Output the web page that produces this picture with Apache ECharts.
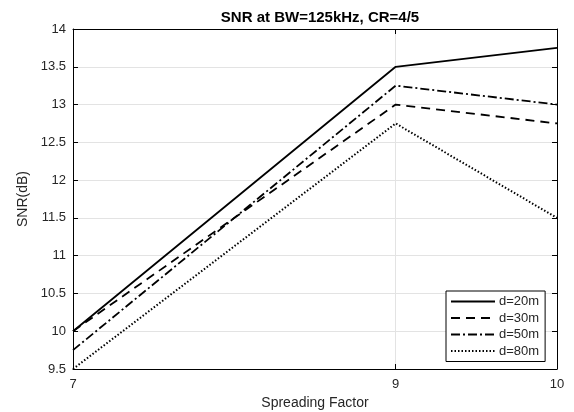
<!DOCTYPE html>
<html>
<head>
<meta charset="utf-8">
<script src="https://cdn.jsdelivr.net/npm/echarts@6/dist/echarts.min.js"></script>
<style>
  html, body { margin: 0; padding: 0; background: #fff; }
  #chart { width: 574px; height: 412px; }
</style>
</head>
<body>
<div id="chart"></div>
<script>
// chart data
const spreadingFactor = [7, 9, 10];
const snr20 = [10, 13.5, 13.75];
const snr30 = [10, 13, 12.75];
const snr50 = [9.75, 13.25, 13];
const snr80 = [9.5, 12.75, 11.5];
const seriesNames = ['d=20m', 'd=30m', 'd=50m', 'd=80m'];
const xTicks = [7, 9, 10];

const font = 'Liberation Sans, Arial, sans-serif';
const gridColor = '#e3e3e3';
const textColor = '#262626';

function pairs(ys) {
    return spreadingFactor.map((x, i) => [x, ys[i]]);
}

function makeSeries(name, ys, type) {
    return {
        type: 'line',
        name: name,
        data: pairs(ys),
        symbol: 'none',
        itemStyle: { color: '#000' },
        lineStyle: {
            color: '#000',
            width: name === 'd=80m' ? 2 : 1.8,
            type: type
        },
        silent: true,
        animation: false
    };
}

const chart = echarts.init(document.getElementById('chart'));

chart.setOption({
    animation: false,
    title: {
        text: 'SNR at BW=125kHz, CR=4/5',
        left: 315,
        textAlign: 'center',
        top: 5,
        textStyle: { fontFamily: font, fontSize: 15, fontWeight: 'bold', color: '#000' }
    },
    grid: { left: 73, right: 17, top: 29, bottom: 43, outerBoundsMode: 'none', containLabel: false },
    legend: {
        orient: 'vertical',
        left: 446,
        top: 291,
        width: 100,
        itemWidth: 44,
        itemHeight: 14,
        itemGap: 3.5,
        padding: [4, 6, 4, 4],
        borderColor: '#000',
        borderWidth: 1,
        backgroundColor: '#fff',
        itemStyle: { opacity: 0 },
        data: seriesNames,
        textStyle: { fontFamily: font, fontSize: 13, color: textColor, padding: [0, 0, 0, -1] }
    },
    xAxis: [{
        type: 'value',
        min: 7,
        max: 10,
        name: 'Spreading Factor',
        nameLocation: 'middle',
        nameGap: 25,
        nameTextStyle: { fontFamily: font, fontSize: 14, color: textColor },
        axisLine: { show: true, onZero: false, lineStyle: { color: '#000', width: 1 } },
        axisTick: { show: true, inside: true, length: 5, customValues: xTicks, lineStyle: { color: '#000' } },
        axisLabel: { customValues: xTicks, fontFamily: font, fontSize: 13, color: textColor, margin: 9 },
        splitLine: { show: true, lineStyle: { color: gridColor } }
    }, {
        type: 'value',
        position: 'top',
        min: 7,
        max: 10,
        axisLine: { show: true, onZero: false, lineStyle: { color: '#000', width: 1 } },
        axisTick: { show: true, inside: true, length: 5, customValues: xTicks, lineStyle: { color: '#000' } },
        axisLabel: { show: false },
        splitLine: { show: false }
    }],
    yAxis: [{
        type: 'value',
        min: 9.5,
        max: 14,
        interval: 0.5,
        name: 'SNR(dB)',
        nameLocation: 'middle',
        nameGap: 43,
        nameTextStyle: { fontFamily: font, fontSize: 14, color: textColor },
        axisLine: { show: true, onZero: false, lineStyle: { color: '#000', width: 1 } },
        axisTick: { show: true, inside: true, length: 5, lineStyle: { color: '#000' } },
        axisLabel: { fontFamily: font, fontSize: 13, color: textColor, margin: 7 },
        splitLine: { show: true, lineStyle: { color: gridColor } }
    }, {
        type: 'value',
        position: 'right',
        min: 9.5,
        max: 14,
        interval: 0.5,
        axisLine: { show: true, onZero: false, lineStyle: { color: '#000', width: 1 } },
        axisTick: { show: true, inside: true, length: 5, lineStyle: { color: '#000' } },
        axisLabel: { show: false },
        splitLine: { show: false }
    }],
    series: [
        makeSeries(seriesNames[0], snr20, 'solid'),
        makeSeries(seriesNames[1], snr30, [9, 6]),
        makeSeries(seriesNames[2], snr50, [9, 3, 2, 3]),
        makeSeries(seriesNames[3], snr80, [1.5, 2])
    ]
});
</script>
</body>
</html>
